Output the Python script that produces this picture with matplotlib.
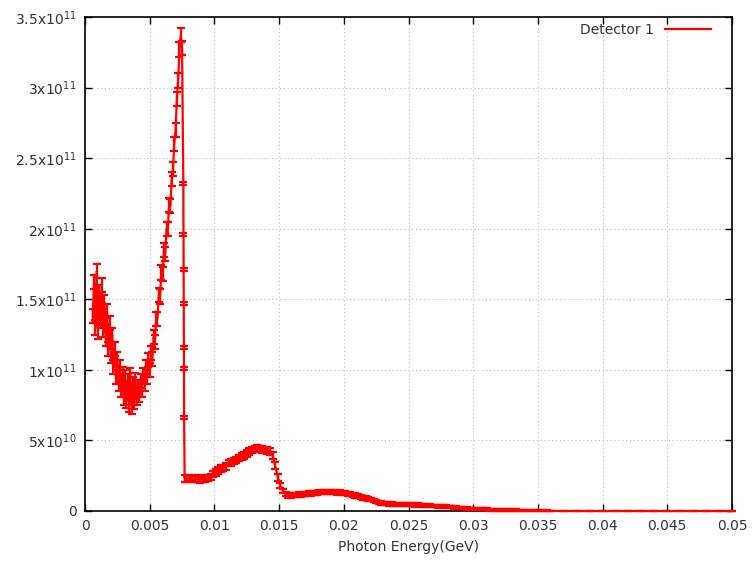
import matplotlib
matplotlib.use("Agg")
import matplotlib.pyplot as plt
from matplotlib.lines import Line2D
import numpy as np

plt.rcParams['font.family'] = ['DejaVu Sans']
plt.rcParams['mathtext.default'] = 'regular'

# ---- data: photon energy (GeV) and flux (units of 1e11) ----
energy_low = [0.0006, 0.0007, 0.0008, 0.0009, 0.0010, 0.0011, 0.0012, 0.0013, 0.0014, 0.0015,
              0.0016, 0.0017, 0.0018, 0.0019, 0.0020, 0.0021, 0.0022, 0.0023, 0.0024, 0.0025,
              0.0026, 0.0027, 0.0028, 0.0029, 0.0030, 0.0031, 0.0032, 0.0033, 0.0034, 0.0035,
              0.0036, 0.0037, 0.0038, 0.0039, 0.0040, 0.0041, 0.0042, 0.0043, 0.0044, 0.0045,
              0.0046, 0.0047, 0.0048, 0.0049, 0.0050, 0.0051, 0.0052, 0.0053, 0.0054, 0.0055,
              0.0056, 0.0057, 0.0058, 0.0059, 0.0060, 0.0061, 0.0062, 0.0063, 0.0064, 0.0065,
              0.0066, 0.0067, 0.0068, 0.0069, 0.0070, 0.0071, 0.0072, 0.0073, 0.0074, 0.0075]
flux_low = [1.38, 1.62, 1.30, 1.70, 1.27, 1.55, 1.35, 1.60, 1.28, 1.48,
            1.22, 1.42, 1.15, 1.33, 1.10, 1.25, 1.02, 1.15, 0.95, 1.08,
            0.90, 1.02, 0.86, 0.97, 0.80, 0.95, 0.78, 0.92, 0.75, 0.96,
            0.74, 0.90, 0.77, 0.93, 0.80, 0.88, 0.82, 0.92, 0.86, 0.96,
            0.90, 1.02, 0.95, 1.07, 1.00, 1.12, 1.08, 1.23, 1.20, 1.36,
            1.36, 1.53, 1.52, 1.69, 1.68, 1.85, 1.82, 2.00, 2.00, 2.17,
            2.16, 2.35, 2.42, 2.60, 2.70, 2.92, 3.05, 3.27, 3.37, 3.28]
err_low = [0.05, 0.05, 0.05, 0.05, 0.05, 0.05, 0.05, 0.05, 0.05, 0.05,
           0.05, 0.05, 0.05, 0.05, 0.05, 0.05, 0.05, 0.05, 0.05, 0.05,
           0.05, 0.05, 0.05, 0.05, 0.05, 0.05, 0.05, 0.05, 0.05, 0.05,
           0.05, 0.05, 0.05, 0.05, 0.05, 0.05, 0.05, 0.05, 0.05, 0.05,
           0.05, 0.05, 0.05, 0.05, 0.05, 0.05, 0.05, 0.05, 0.05, 0.05,
           0.05, 0.05, 0.05, 0.05, 0.05, 0.05, 0.05, 0.05, 0.05, 0.05,
           0.05, 0.05, 0.05, 0.05, 0.05, 0.05, 0.05, 0.05, 0.05, 0.05]

energy_edge = [0.00760, 0.00761, 0.00762, 0.00763, 0.00764, 0.00765, 0.00766]
flux_edge = [2.32, 1.96, 1.71, 1.47, 1.16, 1.01, 0.66]
err_edge = [0.01, 0.01, 0.01, 0.01, 0.01, 0.01, 0.01]

energy_high = [0.0077, 0.0079, 0.0081, 0.0083, 0.0085, 0.0087, 0.0089, 0.0091, 0.0093, 0.0095,
               0.0097, 0.0099, 0.0101, 0.0103, 0.0105, 0.0107, 0.0109, 0.0111, 0.0113, 0.0115,
               0.0117, 0.0119, 0.0121, 0.0123, 0.0125, 0.0127, 0.0129, 0.0131, 0.0133, 0.0135,
               0.0137, 0.0139, 0.0141, 0.0143, 0.0145, 0.0147, 0.0149, 0.0151, 0.0153, 0.0155,
               0.0157, 0.0159, 0.0161, 0.0163, 0.0165, 0.0167, 0.0169, 0.0171, 0.0173, 0.0175,
               0.0177, 0.0179, 0.0181, 0.0183, 0.0185, 0.0187, 0.0189, 0.0191, 0.0193, 0.0195,
               0.0197, 0.0199, 0.0201, 0.0203, 0.0205, 0.0207, 0.0209, 0.0211, 0.0213, 0.0215,
               0.0217, 0.0219, 0.0221, 0.0223, 0.0225, 0.0227, 0.0229, 0.0231, 0.0233, 0.0235,
               0.0237, 0.0239, 0.0241, 0.0243, 0.0245, 0.0247, 0.0249, 0.0251, 0.0253, 0.0255,
               0.0257, 0.0259, 0.0261, 0.0263, 0.0265, 0.0267, 0.0269, 0.0271, 0.0273, 0.0275,
               0.0277, 0.0279, 0.0281, 0.0283, 0.0285, 0.0287, 0.0289, 0.0291, 0.0293, 0.0295,
               0.0297, 0.0299, 0.0301, 0.0303, 0.0305, 0.0307, 0.0309, 0.0311, 0.0313, 0.0315,
               0.0317, 0.0319, 0.0321, 0.0323, 0.0325, 0.0327, 0.0329, 0.0331, 0.0333, 0.0335,
               0.0337, 0.0339, 0.0341, 0.0343, 0.0345, 0.0347, 0.0349, 0.0351, 0.0353, 0.0355,
               0.0357, 0.0359]
flux_high = [0.230, 0.228, 0.232, 0.225, 0.230, 0.228, 0.222, 0.230, 0.226, 0.232,
             0.240, 0.262, 0.275, 0.285, 0.300, 0.305, 0.318, 0.340, 0.345, 0.355,
             0.362, 0.375, 0.385, 0.395, 0.410, 0.420, 0.432, 0.440, 0.445, 0.440,
             0.438, 0.432, 0.428, 0.420, 0.395, 0.320, 0.240, 0.180, 0.140, 0.120,
             0.110, 0.108, 0.112, 0.115, 0.118, 0.116, 0.120, 0.122, 0.125, 0.124,
             0.128, 0.130, 0.132, 0.134, 0.135, 0.137, 0.136, 0.135, 0.134, 0.130,
             0.133, 0.128, 0.126, 0.122, 0.118, 0.115, 0.110, 0.108, 0.100, 0.095,
             0.090, 0.085, 0.080, 0.074, 0.068, 0.062, 0.058, 0.055, 0.052, 0.050,
             0.049, 0.048, 0.047, 0.046, 0.045, 0.046, 0.044, 0.045, 0.044, 0.043,
             0.044, 0.042, 0.041, 0.040, 0.039, 0.037, 0.036, 0.035, 0.034, 0.033,
             0.031, 0.030, 0.028, 0.027, 0.025, 0.024, 0.022, 0.021, 0.020, 0.018,
             0.017, 0.016, 0.015, 0.014, 0.013, 0.012, 0.012, 0.011, 0.010, 0.010,
             0.009, 0.008, 0.008, 0.007, 0.007, 0.006, 0.006, 0.005, 0.005, 0.004,
             0.004, 0.003, 0.003, 0.003, 0.002, 0.002, 0.002, 0.001, 0.001, 0.001,
             0.001, 0.000]
err_high = [0.022, 0.022, 0.022, 0.022, 0.022, 0.022, 0.022, 0.022, 0.022, 0.022,
            0.022, 0.024, 0.024, 0.024, 0.024, 0.024, 0.024, 0.024, 0.024, 0.024,
            0.024, 0.024, 0.024, 0.024, 0.024, 0.024, 0.024, 0.024, 0.024, 0.024,
            0.024, 0.024, 0.024, 0.024, 0.024, 0.024, 0.024, 0.020, 0.016, 0.015,
            0.015, 0.015, 0.015, 0.015, 0.015, 0.015, 0.015, 0.015, 0.015, 0.015,
            0.015, 0.015, 0.015, 0.015, 0.015, 0.015, 0.015, 0.015, 0.015, 0.015,
            0.015, 0.015, 0.015, 0.015, 0.015, 0.015, 0.015, 0.015, 0.014, 0.014,
            0.013, 0.013, 0.012, 0.012, 0.012, 0.012, 0.012, 0.012, 0.012, 0.012,
            0.012, 0.012, 0.012, 0.012, 0.012, 0.012, 0.012, 0.012, 0.012, 0.012,
            0.010, 0.010, 0.010, 0.010, 0.010, 0.010, 0.010, 0.010, 0.010, 0.010,
            0.009, 0.009, 0.009, 0.009, 0.009, 0.009, 0.009, 0.009, 0.009, 0.009,
            0.007, 0.007, 0.007, 0.007, 0.007, 0.007, 0.007, 0.007, 0.007, 0.007,
            0.006, 0.006, 0.006, 0.006, 0.006, 0.006, 0.006, 0.006, 0.006, 0.006,
            0.004, 0.004, 0.004, 0.004, 0.004, 0.004, 0.004, 0.004, 0.004, 0.004,
            0.003, 0.003]

energy_tail = [0.037, 0.038, 0.039, 0.040, 0.041, 0.042, 0.043, 0.044, 0.045, 0.046,
               0.047, 0.048, 0.049, 0.050]
flux_tail = [0.0, 0.0, 0.0, 0.0, 0.0, 0.0, 0.0, 0.0, 0.0, 0.0, 0.0, 0.0, 0.0, 0.0]
err_tail = [0.0, 0.0, 0.0, 0.0, 0.0, 0.0, 0.0, 0.0, 0.0, 0.0, 0.0, 0.0, 0.0, 0.0]

xticks = [0, 0.005, 0.01, 0.015, 0.02, 0.025, 0.03, 0.035, 0.04, 0.045, 0.05]
xtick_labels = ['0', '0.005', '0.01', '0.015', '0.02', '0.025', '0.03', '0.035', '0.04', '0.045', '0.05']
yticks = [0, 0.5e11, 1e11, 1.5e11, 2e11, 2.5e11, 3e11, 3.5e11]
ytick_labels = ['0', r'$5x10^{10}$', r'$1x10^{11}$', r'$1.5x10^{11}$', r'$2x10^{11}$',
                r'$2.5x10^{11}$', r'$3x10^{11}$', r'$3.5x10^{11}$']
series_label = 'Detector 1'
xlabel = 'Photon Energy(GeV)'

energy = np.array(energy_low + energy_edge + energy_high + energy_tail)
flux = np.array(flux_low + flux_edge + flux_high + flux_tail) * 1e11
err = np.array(err_low + err_edge + err_high + err_tail) * 1e11

fig = plt.figure(figsize=(7.53, 5.62), dpi=100)
ax = fig.add_axes([85/753, 1 - 511/562, (732-85)/753, (511-17)/562])

red = '#ff0000'
ax.errorbar(energy, flux, yerr=err, color=red, lw=1.6, elinewidth=1.6,
            capsize=2.6, capthick=1.6, zorder=3, clip_on=False)

ax.set_xlim(0, 0.05)
ax.set_ylim(0, 3.5e11)
ax.set_xticks(xticks)
ax.set_xticklabels(xtick_labels)
ax.set_yticks(yticks)
ax.set_yticklabels(ytick_labels)
ax.tick_params(direction='in', length=5, width=1, top=True, right=True,
               labelsize=10, colors='black', labelcolor='#333333', pad=6)
ax.grid(True, color='#bdbdbd', linestyle=(0, (1, 2.5)), linewidth=0.8)
ax.set_axisbelow(True)
for s in ax.spines.values():
    s.set_linewidth(1.2)
    s.set_color('black')
ax.set_xlabel(xlabel, fontsize=10, color='#333333', labelpad=5)

handle = Line2D([0], [0], color=red, lw=1.6)
ax.legend([handle], [series_label], loc='upper right', frameon=False,
          markerfirst=False, fontsize=10, handlelength=3.3, borderaxespad=0.3,
          bbox_to_anchor=(1 - 11/647, 1 + 4/494), labelcolor='#333333')

fig.savefig('out.png', dpi=100)
